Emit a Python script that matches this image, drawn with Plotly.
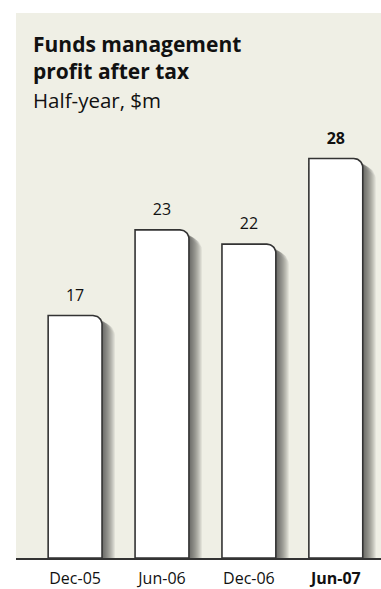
import numpy as np
import plotly.graph_objects as go

# Half-year funds management profit after tax, $m
periods = ["Dec-05", "Jun-06", "Dec-06", "Jun-07"]
profit = [17, 23, 22, 28]
tick_labels = ["Dec-05", "Jun-06", "Dec-06", "<b>Jun-07</b>"]
value_labels = ["17", "23", "22", "<b>28</b>"]

BG = "#EFEFE5"
EDGE = "#333333"
FONT = "Open Sans"

# geometry of the plot area in pixels (used to keep the corner round)
W, H = 381, 589
ML, MR, MT, MB = 16, 0, 13, 26
X_RANGE = [-0.68, 3.52]
Y_RANGE = [0, 38.2]
px_x = (W - ML - MR) / (X_RANGE[1] - X_RANGE[0])
px_y = (H - MT - MB) / (Y_RANGE[1] - Y_RANGE[0])

BAR_W = 0.62


def rounded_bar(xc, top, half, radius_px, shift_px=0.0, drop_px=0.0):
    """Outline of a bar with only its top-right corner rounded."""
    x0 = xc - half
    x1 = xc + half + shift_px / px_x
    t = top - drop_px / px_y
    rx, ry = radius_px / px_x, radius_px / px_y
    ang = np.linspace(np.pi / 2, 0, 14)
    xs = [x0, x0] + list(x1 - rx + rx * np.cos(ang)) + [x1, x0]
    ys = [0, t] + list(t - ry + ry * np.sin(ang)) + [0, 0]
    return xs, ys


fig = go.Figure()

# soft shadows: nested translucent layers, each reaching a little further right
SHADOW_STEPS = 13
for i, v in enumerate(profit):
    for k in range(1, SHADOW_STEPS + 1):
        xs, ys = rounded_bar(i, v, BAR_W / 2, 9 + k * 0.4, shift_px=k, drop_px=1 + k * 0.45)
        fig.add_trace(go.Scatter(
            x=xs, y=ys, mode="lines", line=dict(width=0),
            fill="toself", fillcolor="rgba(45,45,40,0.075)",
            hoverinfo="skip", showlegend=False,
        ))

# the bars themselves
for i, v in enumerate(profit):
    xs, ys = rounded_bar(i, v, BAR_W / 2, 9)
    fig.add_trace(go.Scatter(
        x=xs, y=ys, mode="lines", fill="toself", fillcolor="white",
        line=dict(color=EDGE, width=1.6),
        hoverinfo="skip", showlegend=False,
    ))

# value labels just above the bar tops
fig.add_trace(go.Scatter(
    x=list(range(len(profit))), y=[v + 19 / px_y for v in profit], mode="text",
    text=value_labels, textposition="middle center",
    textfont=dict(family=FONT, size=16, color="#111111"),
    hoverinfo="skip", showlegend=False,
))

TX = (31 - ML) / (W - ML)
PH = H - MT - MB

fig.update_layout(
    width=W, height=H,
    margin=dict(l=ML, r=MR, t=MT, b=MB, pad=0),
    paper_bgcolor="white", plot_bgcolor=BG,
    font=dict(family=FONT, color="#111111"),
    xaxis=dict(
        range=X_RANGE, tickmode="array",
        tickvals=list(range(len(periods))), ticktext=tick_labels,
        showgrid=False, zeroline=False,
        showline=True, linecolor=EDGE, linewidth=1.6,
        ticks="outside", ticklen=5, tickcolor="rgba(0,0,0,0)",
        tickfont=dict(family=FONT, size=16, color="#111111"),
        fixedrange=True,
    ),
    yaxis=dict(range=Y_RANGE, visible=False, fixedrange=True),
    annotations=[
        dict(text="<b>Funds management<br>profit after tax</b>",
             xref="paper", yref="paper", x=TX, y=1 - (28 - MT) / PH,
             xanchor="left", yanchor="top", align="left", showarrow=False,
             font=dict(family=FONT, size=21, color="#111111")),
        dict(text="Half-year, $m",
             xref="paper", yref="paper", x=TX, y=1 - (85 - MT) / PH,
             xanchor="left", yanchor="top", align="left", showarrow=False,
             font=dict(family=FONT, size=20.5, color="#111111")),
    ],
)

fig.write_html("out.html")
